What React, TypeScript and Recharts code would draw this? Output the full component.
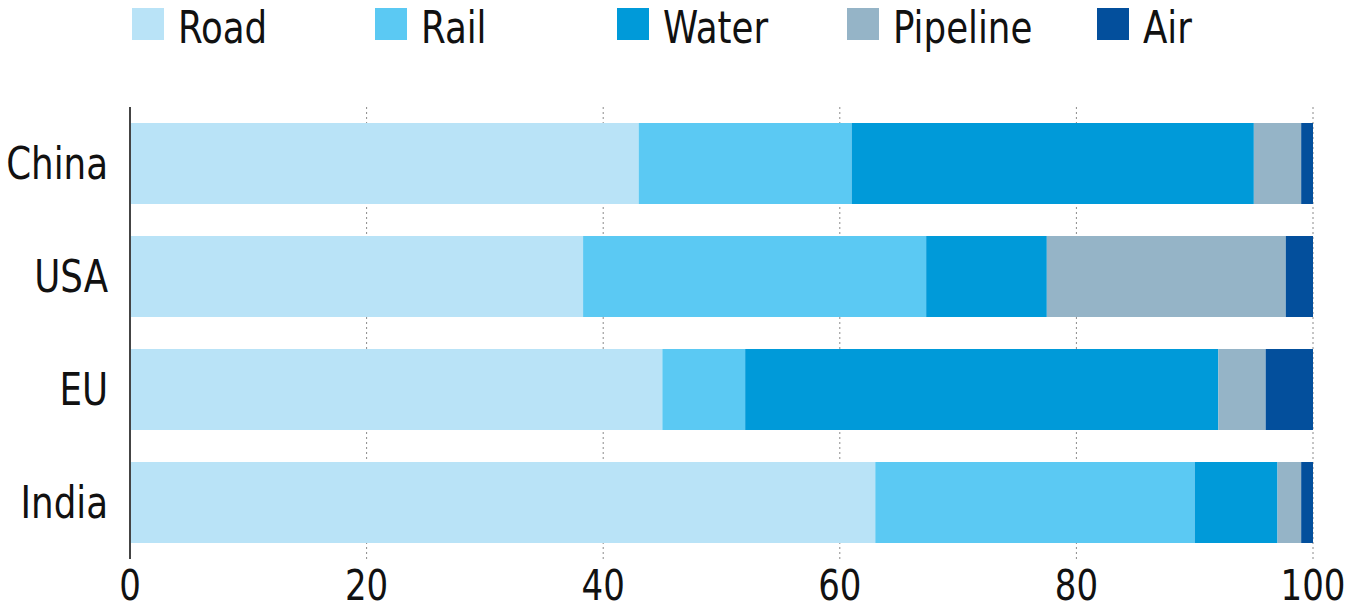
import React from 'react';
import { BarChart, Bar, XAxis, YAxis, CartesianGrid } from 'recharts';

const countries = ['China', 'USA', 'EU', 'India'];
const road = [43, 38.3, 45, 63];
const rail = [18, 29, 7, 27];
const water = [34, 10.2, 40, 7];
const pipeline = [4, 20.2, 4, 2];
const air = [1, 2.3, 4, 1];
const xTicks = [0, 20, 40, 60, 80, 100];

const seriesNames = ['Road', 'Rail', 'Water', 'Pipeline', 'Air'];
const seriesKeys = ['road', 'rail', 'water', 'pipeline', 'air'];
const seriesColors = ['#b9e3f7', '#5bc9f3', '#009ad9', '#95b4c7', '#034f9c'];

const data = countries.map((c, i) => ({
  country: c,
  road: road[i],
  rail: rail[i],
  water: water[i],
  pipeline: pipeline[i],
  air: air[i],
}));

const FONT = "'Liberation Sans Narrow', 'DejaVu Sans Condensed', 'Liberation Sans', sans-serif";
const SQUEEZE = 0.9;
const legendLefts = [132, 375, 617, 847, 1097];

function LegendRow() {
  return (
    <div style={{ position: 'absolute', left: 0, top: 0, width: 1356, height: 60, zIndex: 2 }}>
      {seriesNames.map((name, i) => (
        <div key={name} style={{ position: 'absolute', left: legendLefts[i], top: 0, height: 60 }}>
          <div
            style={{
              position: 'absolute',
              left: 0,
              top: 8,
              width: 32,
              height: 32,
              background: seriesColors[i],
            }}
          />
          <span
            style={{
              position: 'absolute',
              left: 46,
              top: 6,
              fontFamily: FONT,
              fontSize: 44,
              lineHeight: '44px',
              color: '#111',
              whiteSpace: 'nowrap',
              transform: `scaleX(${SQUEEZE})`,
              transformOrigin: 'left top',
            }}
          >
            {name}
          </span>
        </div>
      ))}
    </div>
  );
}

function YTick(props: any) {
  const { x, y, payload } = props;
  return (
    <g transform={`translate(${x},${y})`}>
      <text
        x={0}
        y={0}
        dy="0.36em"
        textAnchor="end"
        fontSize={44}
        fontFamily={FONT}
        fill="#111"
        transform={`scale(${SQUEEZE},1)`}
      >
        {payload.value}
      </text>
    </g>
  );
}

function XTick(props: any) {
  const { x, y, payload } = props;
  return (
    <g transform={`translate(${x},${y})`}>
      <text
        x={0}
        y={0}
        dy="0.71em"
        textAnchor="middle"
        fontSize={42}
        fontFamily={FONT}
        fill="#111"
        transform={`scale(${SQUEEZE},1)`}
      >
        {payload.value}
      </text>
    </g>
  );
}

export default function App() {
  return (
    <div style={{ position: 'absolute', left: 0, top: 0, width: 1356, height: 610, background: '#fff' }}>
      <LegendRow />
      <BarChart
        width={1356}
        height={610}
        data={data}
        layout="vertical"
        margin={{ top: 107, right: 43, bottom: 0, left: 0 }}
        barCategoryGap={16}
      >
        <CartesianGrid horizontal={false} vertical={true} stroke="#8a8a8a" strokeDasharray="2 3" />
        <XAxis
          type="number"
          domain={[0, 100]}
          ticks={xTicks}
          axisLine={false}
          tickLine={false}
          height={51}
          tickMargin={5}
          tick={<XTick />}
          interval={0}
        />
        <YAxis
          type="category"
          dataKey="country"
          width={130}
          axisLine={{ stroke: '#444', strokeWidth: 2 }}
          tickLine={false}
          tickMargin={16}
          tick={<YTick />}
        />
        {seriesKeys.map((k, i) => (
          <Bar key={k} dataKey={k} stackId="a" fill={seriesColors[i]} barSize={81} isAnimationActive={false} />
        ))}
      </BarChart>
    </div>
  );
}
